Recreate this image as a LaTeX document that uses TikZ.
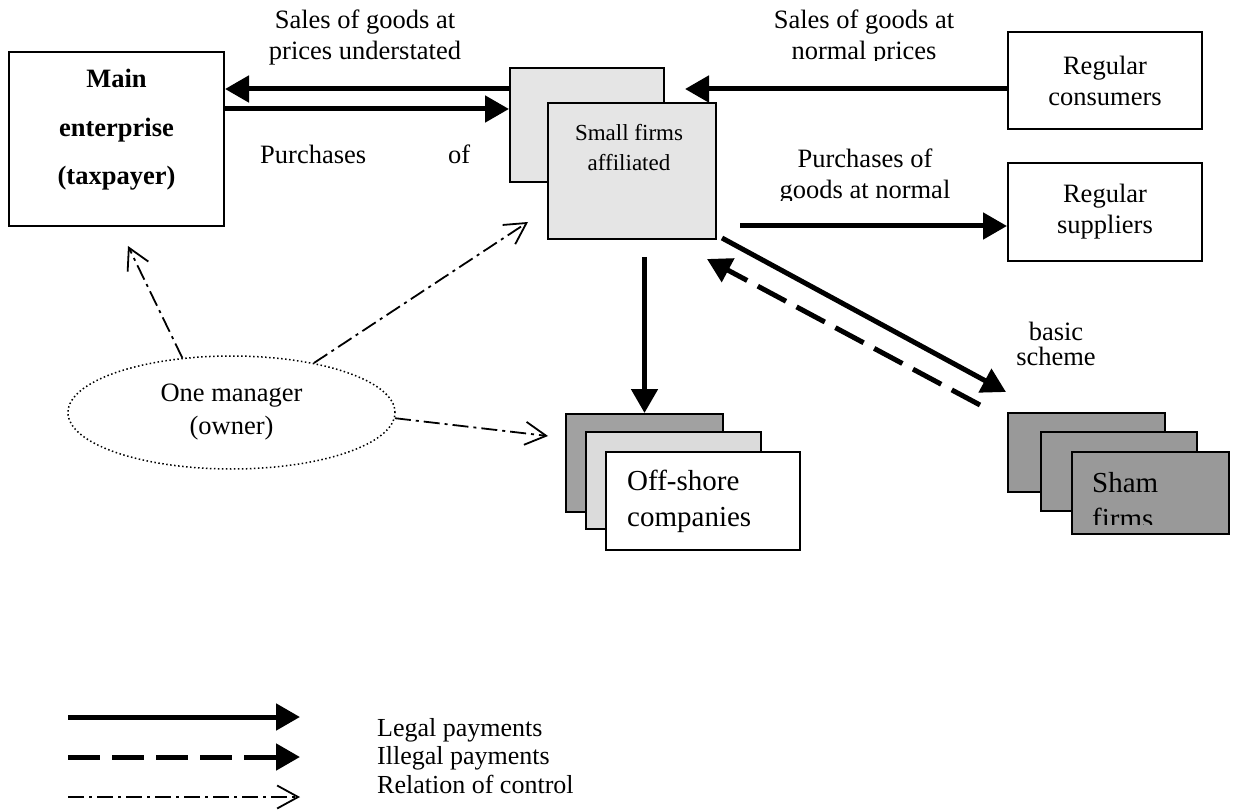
\documentclass[tikz,border=0pt]{standalone}
\usepackage{fontspec}
\setmainfont{Liberation Serif}
\usetikzlibrary{arrows.meta,shapes.geometric}

\begin{document}
\begin{tikzpicture}[x=1pt,y=-1pt,
  txt/.style={align=center,inner sep=0pt,font=\fontsize{26.5}{31}\selectfont},
  box/.style={draw,line width=2pt,inner sep=0pt},
  legal/.style={line width=5pt,-{Triangle[length=24pt,width=26pt]}},
  illegal/.style={legal,dash pattern=on 32pt off 12pt},
  control/.style={line width=1.8pt,dash pattern=on 16pt off 5pt on 3pt off 5pt,
    -{Straight Barb[length=21pt,width=23pt,line width=1.8pt]}}]
\useasboundingbox (0,0) rectangle (1236,810);

% firms
\node[box,minimum width=215pt,minimum height=174pt] (main) at (116.5,139) {};
\node[txt,font=\bfseries\fontsize{26.5}{48.5}\selectfont] (maintxt) at (116.5,130) {Main\\enterprise\\(taxpayer)};
\node[box,fill=black!10,minimum width=154pt,minimum height=114pt] (sfback) at (587,125) {};
\node[box,fill=black!10,minimum width=168pt,minimum height=136pt] (sffront) at (632,171) {};
\node[txt,font=\fontsize{23}{30}\selectfont] (sftxt) at (629,148) {Small firms\\affiliated};
\node[box,txt,minimum width=194pt,minimum height=97pt] (cons) at (1105,80.5) {Regular\\consumers};
\node[box,txt,minimum width=194pt,minimum height=98pt] (supp) at (1105,212) {Regular\\suppliers};

\node[box,fill=black!37,minimum width=157pt,minimum height=98pt] (offback) at (644.5,463) {};
\node[box,fill=black!14,minimum width=175pt,minimum height=97pt] (offmid) at (673.5,480.5) {};
\node[box,fill=white,minimum width=194pt,minimum height=98pt] (offfront) at (703,501) {};
\node[txt,anchor=west,align=left,font=\fontsize{29}{36}\selectfont] (offtxt) at (627,501) {Off-shore\\companies};

\node[box,fill=black!40,minimum width=157pt,minimum height=79pt] (shamback) at (1086.5,452.5) {};
\node[box,fill=black!40,minimum width=156pt,minimum height=79pt] (shammid) at (1119,471.5) {};
\node[box,fill=black!40,minimum width=157pt,minimum height=82pt] (shamfront) at (1150.5,493) {};
\begin{scope}
\clip (1072,452) rectangle (1229,524.5);
\node[txt,anchor=west,align=left,font=\fontsize{29}{36}\selectfont] (shamtxt) at (1092,501) {Sham\\firms};
\end{scope}

\node[ellipse,draw,line width=1.5pt,dash pattern=on 1.5pt off 2.5pt,txt,minimum width=327pt,minimum height=113pt,
  font=\fontsize{26.5}{33}\selectfont] (mgr) at (231.5,412.5) {One manager\\(owner)};

% labels
\node[txt] (salesu) at (365,37.5) {Sales of goods at\\prices understated};
\node[txt,anchor=west] (purch) at (260,154) {\makebox[210pt][s]{Purchases of}};
\begin{scope}
\clip (700,0) rectangle (1000,61);
\node[txt] (salesn) at (864,37.5) {Sales of goods at\\normal prices};
\end{scope}
\begin{scope}
\clip (700,140) rectangle (1000,201);
\node[txt] (purchn) at (865,176.5) {Purchases of\\goods at normal};
\end{scope}
\node[txt,font=\fontsize{26.5}{25}\selectfont] (basic) at (1056,344) {basic\\scheme};

% payments
\coordinate (constip) at (685,89);
\coordinate (suppstart) at (740,226);
\draw[legal] (sfback.west |- 0,89) -- (main.east |- 0,89);
\draw[legal] (main.east |- 0,109) -- (sfback.west |- 0,109);
\draw[legal] (cons.west |- 0,89) -- (constip);
\draw[legal] (suppstart) -- (supp.west |- 0,226);
\draw[legal] (offback.north |- 0,257) -- (offback.north);
\draw[legal] ([shift={(5,-2)}]sffront.south east) -- ([shift={(-1,-20)}]shamback.north west);
\draw[illegal] ([shift={(-27,-7)}]shamback.north west) -- ([shift={(-10,19)}]sffront.south east);

% control
\draw[control] (mgr.132) -- ([shift={(11.5,19)}]main.south);
\draw[control] (mgr.31) -- ([shift={(-19,-18)}]sffront.south west);
\draw[control] (mgr.-2) -- ([shift={(-17,-27)}]offback.west);

% legend
\coordinate (leg1a) at (68,717);
\coordinate (leg1b) at (300,717);
\coordinate (leg2a) at (68,757);
\coordinate (leg2b) at (300,757);
\coordinate (leg3a) at (68,797);
\coordinate (leg3b) at (300,797);
\draw[legal] (leg1a) -- (leg1b);
\draw[illegal] (leg2a) -- (leg2b);
\draw[control] (leg3a) -- (leg3b);
\node[txt,anchor=west,align=left,font=\fontsize{26}{28.5}\selectfont] (legtxt) at (377,756) {Legal payments\\Illegal payments\\Relation of control};
\end{tikzpicture}
\end{document}
